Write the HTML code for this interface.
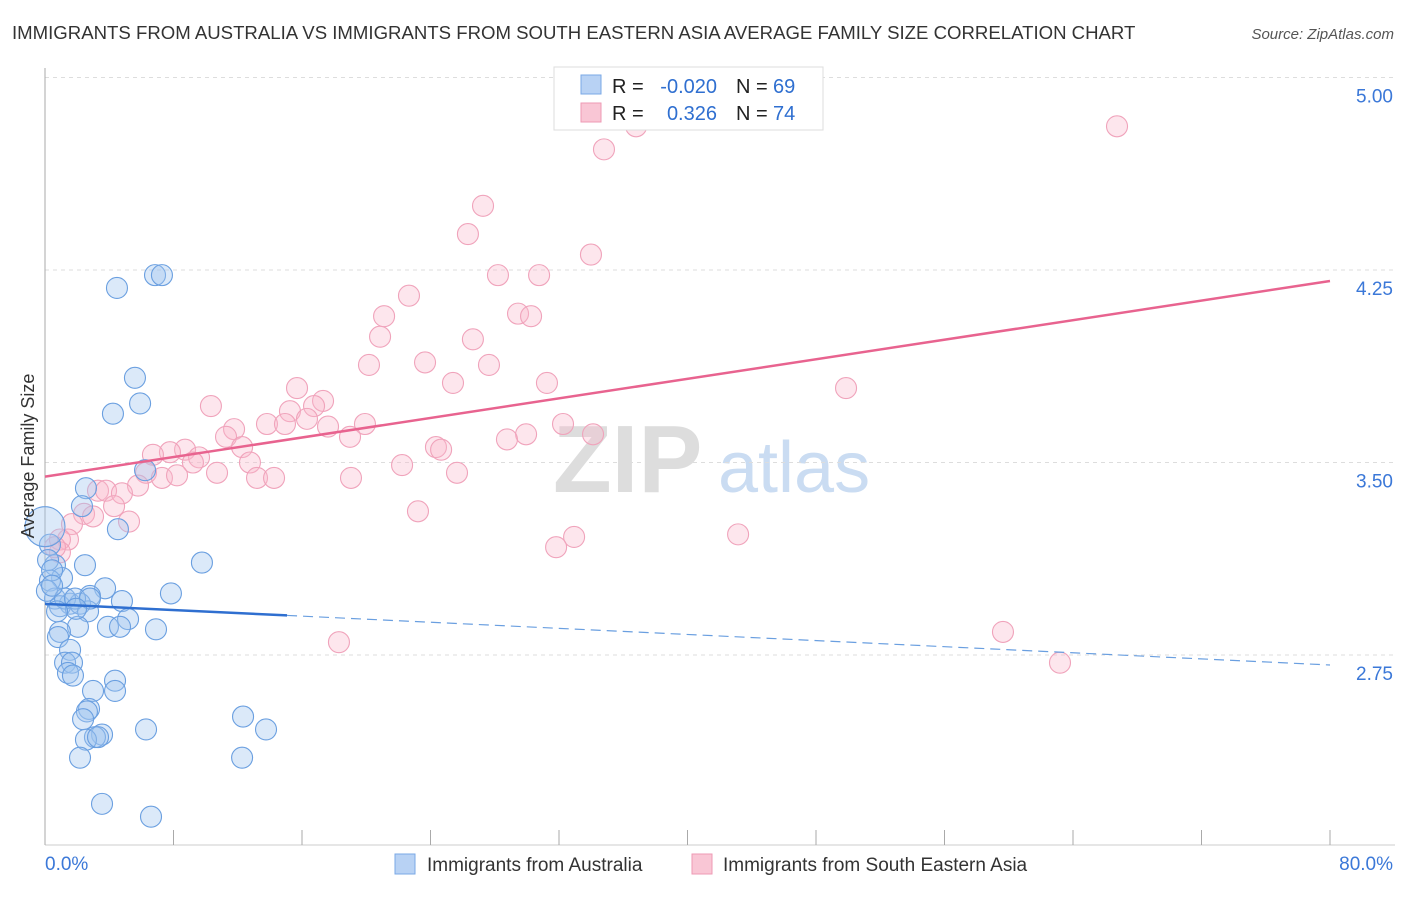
<!DOCTYPE html>
<html><head><meta charset="utf-8"><style>
body{margin:0;background:#fff;font-family:"Liberation Sans",sans-serif}
svg text{font-family:"Liberation Sans",sans-serif}
</style></head><body>
<svg id="chart" width="1406" height="892" xmlns="http://www.w3.org/2000/svg">
<text x="12" y="39" font-size="18.6" fill="#333">IMMIGRANTS FROM AUSTRALIA VS IMMIGRANTS FROM SOUTH EASTERN ASIA AVERAGE FAMILY SIZE CORRELATION CHART</text>
<text x="1394" y="39" font-size="15" fill="#555" text-anchor="end" font-style="italic">Source: ZipAtlas.com</text>
<g>
<text x="553" y="492" font-size="96" fill="#ddd" font-family="Liberation Serif" font-weight="bold">ZIP</text>
<text x="718" y="492" font-size="72" fill="#cadcf2">atlas</text>
</g>
<g id="grid"></g><g id="axes"></g><g id="marks"></g>
<text transform="translate(34,456) rotate(-90)" font-size="18" fill="#333" text-anchor="middle">Average Family Size</text>
<g>
<rect x="554" y="67" width="269" height="63" fill="#fff" stroke="#ddd"/>
<rect x="581" y="75" width="20" height="19" fill="#b8d2f4" stroke="#7aa8e6"/>
<rect x="581" y="103" width="20" height="19" fill="#f9c6d5" stroke="#ee9ab4"/>
<text x="612" y="93" font-size="20" fill="#222">R =</text>
<text x="717" y="93" font-size="20" fill="#2f6fd0" text-anchor="end">-0.020</text>
<text x="736" y="93" font-size="20" fill="#222">N =</text>
<text x="773" y="93" font-size="20" fill="#2f6fd0">69</text>
<text x="612" y="120" font-size="20" fill="#222">R =</text>
<text x="717" y="120" font-size="20" fill="#2f6fd0" text-anchor="end">0.326</text>
<text x="736" y="120" font-size="20" fill="#222">N =</text>
<text x="773" y="120" font-size="20" fill="#2f6fd0">74</text>
</g>
<g>
<rect x="395" y="854" width="20" height="20" fill="#b8d2f4" stroke="#7aa8e6"/>
<text x="427" y="871" font-size="19" fill="#333">Immigrants from Australia</text>
<rect x="692" y="854" width="20" height="20" fill="#f9c6d5" stroke="#ee9ab4"/>
<text x="723" y="871" font-size="19" fill="#333">Immigrants from South Eastern Asia</text>
</g>
</svg>
<script>
const xTickLabels=["0.0%","80.0%"];
const yTicks=[2.75,3.50,4.25,5.00];
const blueX=[4.48,6.85,7.28,5.60,5.92,4.23,6.23,2.55,2.30,4.54,0.31,0.62,2.49,9.77,1.06,0.31,3.74,7.84,2.80,4.79,0.62,1.56,2.18,2.68,0.93,5.17,3.92,4.67,6.91,2.05,0.93,0.81,1.56,1.25,1.68,1.43,1.74,4.36,2.99,4.36,2.74,2.61,2.37,12.33,13.76,6.29,3.55,3.11,2.55,3.30,2.18,12.27,3.55,6.60,0.19,0.44,0.12,1.25,1.87,2.80,1.93,0.75,0.44];
const blueY=[4.18,4.23,4.23,3.83,3.73,3.69,3.47,3.40,3.33,3.24,3.18,3.10,3.10,3.11,3.05,3.04,3.01,2.99,2.98,2.96,2.97,2.95,2.95,2.92,2.94,2.89,2.86,2.86,2.85,2.86,2.84,2.82,2.77,2.72,2.72,2.68,2.67,2.65,2.61,2.61,2.54,2.53,2.50,2.51,2.46,2.46,2.44,2.43,2.42,2.43,2.35,2.35,2.17,2.12,3.12,3.08,3.00,2.97,2.97,2.97,2.93,2.92,3.02];
const pinkX=[36.8,66.74,34.8,27.27,26.33,33.99,28.2,30.76,22.66,29.45,30.26,21.11,20.86,26.64,20.17,23.66,27.64,25.40,31.25,49.87,15.69,17.31,16.75,10.33,15.25,13.82,14.94,16.31,17.62,19.92,11.77,32.25,34.12,18.99,11.27,29.95,28.76,12.27,24.34,24.66,8.72,7.78,6.72,9.59,9.21,12.76,22.23,6.29,7.28,8.22,10.71,13.20,14.26,19.05,25.65,5.79,3.30,3.80,4.79,4.30,23.22,2.43,2.99,5.23,1.68,1.43,0.93,43.15,32.94,31.82,0.93,0.62,59.64,18.30,63.19];
const pinkY=[4.81,4.81,4.72,4.50,4.39,4.31,4.23,4.23,4.15,4.08,4.07,4.07,3.99,3.98,3.88,3.89,3.88,3.81,3.81,3.79,3.79,3.74,3.72,3.72,3.70,3.65,3.65,3.67,3.64,3.65,3.63,3.65,3.61,3.60,3.60,3.61,3.59,3.56,3.56,3.55,3.55,3.54,3.53,3.52,3.50,3.50,3.49,3.46,3.44,3.45,3.46,3.44,3.44,3.44,3.46,3.41,3.39,3.39,3.38,3.33,3.31,3.30,3.29,3.27,3.26,3.20,3.20,3.22,3.21,3.17,3.15,3.17,2.84,2.80,2.72];
const blueTrend=[2.949,2.711];
const pinkTrend=[3.445,4.207];
const blueSolidEnd=15.07;
const NS='http://www.w3.org/2000/svg';
const sx=v=>45+v/80*1285;
const sy=v=>77.5+(5-v)/0.75*192.5;
function mk(tag,attrs,parent){const e=document.createElementNS(NS,tag);for(const k in attrs)e.setAttribute(k,attrs[k]);document.getElementById(parent).appendChild(e);return e;}
yTicks.forEach(t=>{
  const g=mk('line',{x1:45,x2:1395,y1:sy(t),y2:sy(t),stroke:'#ddd','stroke-dasharray':'4,4'},'grid');
  
  
  const l=mk('text',{x:1393,y:sy(t)+25,'font-size':19,fill:'#3b78d8','text-anchor':'end'},'axes');
  l.textContent=t.toFixed(2);
  
  
});
const ya=mk('line',{x1:45,x2:45,y1:68,y2:845,stroke:'#aaa'},'axes');


const xa=mk('line',{x1:45,x2:1395,y1:845,y2:845,stroke:'#ccc'},'axes');


for(let i=0;i<=10;i++){
  const t=mk('line',{x1:sx(i*8),x2:sx(i*8),y1:830,y2:845,stroke:'#aaa'},'axes');
  
  
}
[[0,'start',45],[80,'end',1393]].forEach((d,i)=>{
  const l=mk('text',{x:d[2],y:870,'font-size':19,fill:'#3b78d8','text-anchor':d[1]},'axes');
  l.textContent=xTickLabels[i];
  
  
});
pinkX.forEach((x,i)=>{
  const c=mk('circle',{cx:sx(x),cy:sy(pinkY[i]),r:10.5,fill:'rgba(248,184,204,0.35)',stroke:'#f0a3bb','stroke-width':1.1},'marks');
  
  
});
blueX.forEach((x,i)=>{
  const c=mk('circle',{cx:sx(x),cy:sy(blueY[i]),r:10.5,fill:'rgba(160,196,240,0.38)',stroke:'#6a9fe0','stroke-width':1.1},'marks');
  
  
});
const big=mk('circle',{cx:sx(0),cy:sy(3.25),r:20,fill:'rgba(160,196,240,0.38)',stroke:'#6a9fe0','stroke-width':1.1},'marks');


const by=x=>blueTrend[0]+(blueTrend[1]-blueTrend[0])*x/80;
const bs=mk('line',{x1:sx(0),y1:sy(by(0)),x2:sx(blueSolidEnd),y2:sy(by(blueSolidEnd)),stroke:'#2f6fd0','stroke-width':2.5},'marks');


const bd=mk('line',{x1:sx(blueSolidEnd),y1:sy(by(blueSolidEnd)),x2:sx(80),y2:sy(by(80)),stroke:'#6a9fe0','stroke-width':1.2,'stroke-dasharray':'10,6'},'marks');


const pl=mk('line',{x1:sx(0),y1:sy(pinkTrend[0]),x2:sx(80),y2:sy(pinkTrend[1]),stroke:'#e8638f','stroke-width':2.5},'marks');


</script>
</body></html>
